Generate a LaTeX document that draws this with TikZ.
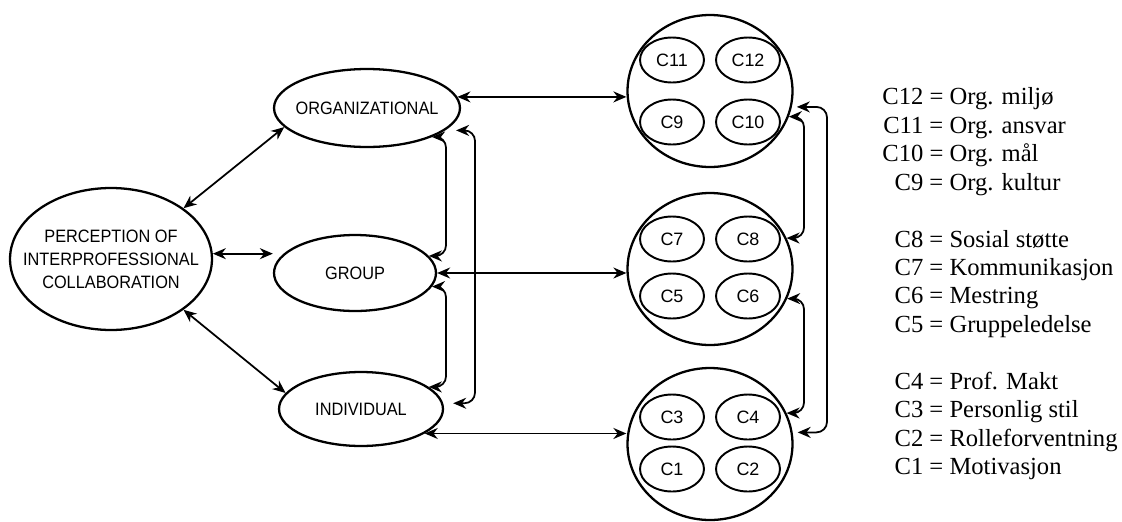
\documentclass[tikz,border=0pt]{standalone}
\usepackage{fontspec}
\setmainfont{Liberation Serif}
\setsansfont{Liberation Sans}
\newfontfamily\narrowsans{Liberation Sans}[FakeStretch=0.91]
\usetikzlibrary{arrows.meta, shapes.geometric}
\tikzset{
	dim/.style={draw, ellipse, line width=1.3pt, inner xsep=-0.6cm, inner ysep=-0.3cm,
		align=center, font=\narrowsans\fontsize{10.2}{13}\selectfont},
	cluster/.style={draw, ellipse, line width=1.3pt, inner sep=0pt,
		minimum width=3.3cm, minimum height=3.04cm},
	item/.style={draw, ellipse, line width=1.1pt, inner sep=-0.1cm,
		minimum width=1.28cm, minimum height=0.9cm,
		font=\sffamily\fontsize{10.2}{11}\selectfont},
	link/.style={{Stealth[length=2.6mm,width=2.2mm]}-{Stealth[length=2.6mm,width=2.2mm]},
		line width=1pt},
	bracketlink/.style={link, rounded corners=6pt},
}

\begin{document}
\begin{tikzpicture}[x=0.02cm, y=-0.02cm]
	\useasboundingbox (0,0) rectangle (1122,521);
	% dimensions
	\node[dim, minimum width=4.04cm, minimum height=2.84cm] (perc) at (111,259)
		{PERCEPTION OF\\INTERPROFESSIONAL\\COLLABORATION};
	\node[dim, minimum width=3.72cm, minimum height=1.56cm] (org) at (367,108) {ORGANIZATIONAL};
	\node[dim, minimum width=3.24cm, minimum height=1.52cm] (grp) at (355,273) {GROUP};
	\node[dim, minimum width=3.28cm, minimum height=1.48cm] (ind) at (361,409) {INDIVIDUAL};
	% clusters of items
	\node[cluster] (top) at (710,91) {};
	\node[cluster] (mid) at (710,269) {};
	\node[cluster] (bot) at (710,444) {};
	\node[item] (c11) at (672,60) {C11};
	\node[item] (c12) at (748,60) {C12};
	\node[item] (c9) at (672,122) {C9};
	\node[item] (c10) at (748,122) {C10};
	\node[item] (c7) at (672,239) {C7};
	\node[item] (c8) at (748,239) {C8};
	\node[item] (c5) at (672,296) {C5};
	\node[item] (c6) at (748,296) {C6};
	\node[item] (c3) at (672,417) {C3};
	\node[item] (c4) at (748,417) {C4};
	\node[item] (c1) at (672,469) {C1};
	\node[item] (c2) at (748,469) {C2};
	% columns of the side brackets
	\coordinate (bx1) at (446,0);
	\coordinate (bx2) at (475,0);
	\coordinate (bx3) at (804,0);
	\coordinate (bx4) at (827,0);
	% links
	\draw[link] (perc.35) -- (org.193);
	\draw[link] (perc.3) -- (perc.3 -| grp.west);
	\draw[link] (perc.-35) -- (ind.168);
	\draw[link] (org.7) -- (org.7 -| top.west);
	\draw[link] (grp.east) -- (grp.east -| mid.west);
	\draw[link] (ind.-21) -- (ind.-21 -| bot.west);
	\draw[bracketlink] (org.-24) -- (org.-24 -| bx1) -- (grp.13 -| bx1) -- (grp.13);
	\draw[bracketlink] (grp.-10) -- (grp.-10 -| bx1) -- (ind.18 -| bx1) -- (ind.18);
	\draw[bracketlink, shorten <=0.22cm, shorten >=0.2cm]
		(org.-16) -- (org.-16 -| bx2) -- (ind.4 -| bx2) -- (ind.4);
	\draw[bracketlink] (top.-18) -- (top.-18 -| bx3) -- (mid.22 -| bx3) -- (mid.22);
	\draw[bracketlink] (mid.-21) -- (mid.-21 -| bx3) -- (bot.22 -| bx3) -- (bot.22);
	\draw[bracketlink, shorten <=0.1cm, shorten >=0.1cm]
		(top.-11) -- (top.-11 -| bx4) -- (bot.8 -| bx4) -- (bot.8);
	% legend
	\node[anchor=west, inner sep=0pt, font=\fontsize{14}{16.2}\selectfont] (legend) at (882,284)
		{\begin{tabular}{@{}r@{\ =\ }l@{}}
			C12 & Org. miljø\\
			C11 & Org. ansvar\\
			C10 & Org. mål\\
			C9 & Org. kultur\\[16.2pt]
			C8 & Sosial støtte\\
			C7 & Kommunikasjon\\
			C6 & Mestring\\
			C5 & Gruppeledelse\\[16.2pt]
			C4 & Prof. Makt\\
			C3 & Personlig stil\\
			C2 & Rolleforventning\\
			C1 & Motivasjon
		\end{tabular}};
\end{tikzpicture}
\end{document}
